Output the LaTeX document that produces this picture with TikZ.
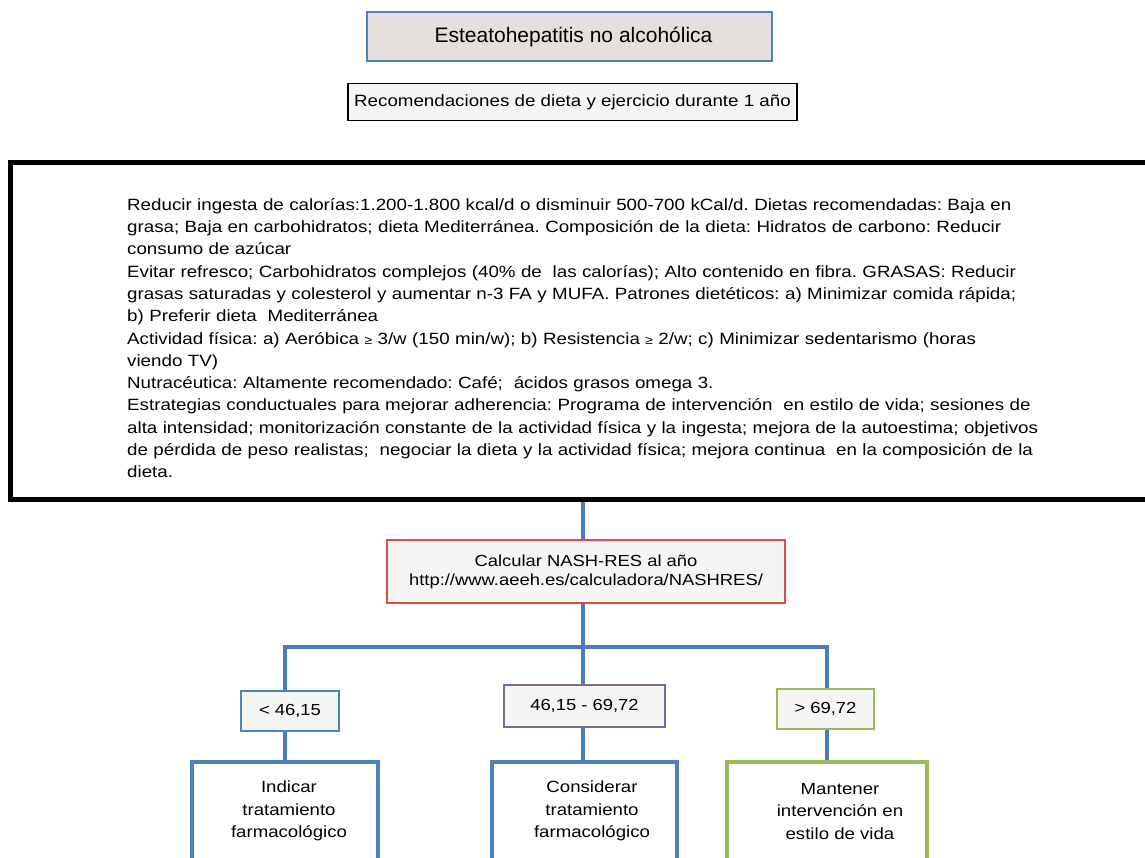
\documentclass[tikz,border=0pt]{standalone}
\usepackage{fontspec}
\setmainfont{Liberation Sans}
\newfontfamily\stf[FakeStretch=1.15]{Liberation Sans}
\definecolor{boxblue}{HTML}{4F81BD}
\definecolor{connblue}{HTML}{4A7EBB}
\definecolor{titlegray}{HTML}{E4E1DD}
\definecolor{lightfill}{HTML}{F5F5F3}
\definecolor{nashred}{HTML}{DD4B4B}
\definecolor{boxpurple}{HTML}{8064A2}
\definecolor{boxgreen}{HTML}{9BBB59}
\newcommand{\smallgeq}{{\fontsize{12}{12}\selectfont ≥}}
\frenchspacing
\begin{document}
\frenchspacing
\begin{tikzpicture}[x=1pt,y=-1pt,
  titlebox/.style={draw=boxblue, fill=titlegray, line width=1.5pt, inner sep=0pt,
    minimum width=405pt, minimum height=49pt, font=\fontsize{21}{24}\selectfont},
  subbox/.style={draw=black, fill=lightfill, line width=1.5pt, inner sep=0pt,
    minimum width=449pt, minimum height=37.4pt, font=\stf\fontsize{16.3}{20}\selectfont},
  bigbox/.style={draw=black, fill=white, line width=5pt, inner sep=0pt},
  bodytext/.style={inner sep=0pt, text width=1000pt, align=left,
    font=\stf\fontsize{16.3}{22.3}\selectfont},
  nashbox/.style={draw=nashred, fill=lightfill, line width=1.5pt, inner sep=0pt,
    minimum width=398pt, minimum height=63pt, align=center,
    font=\stf\fontsize{16}{19}\selectfont},
  smallbox/.style={fill=lightfill, line width=1.5pt, inner sep=0pt,
    minimum height=40pt, font=\stf\fontsize{16}{19}\selectfont},
  resbox/.style={fill=white, line width=4pt, inner sep=0pt, anchor=north,
    minimum height=140pt},
  restext/.style={inner sep=0pt, align=center, font=\stf\fontsize{16.2}{22.5}\selectfont},
  conn/.style={draw=connblue, line width=4pt}
]
\useasboundingbox (0,0) rectangle (1145,858);
\clip (0,0) rectangle (1145,858);

\node[titlebox] (title) at (569.5,36.5) {\hspace*{8pt}Esteatohepatitis no alcohólica};
\node[subbox] (sub) at (572.5,102) {Recomendaciones de dieta y ejercicio durante 1 año};

\node[bigbox, minimum width=1139.5pt, minimum height=336pt] (big) at (580.25,331) {};
\node[bodytext, anchor=north west] (body) at (127,198) {%
Reducir ingesta de calorías:1.200-1.800 kcal/d o disminuir 500-700 kCal/d. Dietas recomendadas: Baja en\\
grasa; Baja en carbohidratos; dieta Mediterránea. Composición de la dieta: Hidratos de carbono: Reducir\\
consumo de azúcar\\
Evitar refresco; Carbohidratos complejos (40\% de\ \ las calorías); Alto contenido en fibra. GRASAS: Reducir\\
grasas saturadas y colesterol y aumentar n-3 FA y MUFA. Patrones dietéticos: a) Minimizar comida rápida;\\
b) Preferir dieta\ \ Mediterránea\\
Actividad física: a) Aeróbica \smallgeq\ 3/w (150 min/w); b) Resistencia \smallgeq\ 2/w; c) Minimizar sedentarismo (horas\\
viendo TV)\\
Nutracéutica: Altamente recomendado: Café;\ \ ácidos grasos omega 3.\\
Estrategias conductuales para mejorar adherencia: Programa de intervención\ \ en estilo de vida; sesiones de\\
alta intensidad; monitorización constante de la actividad física y la ingesta; mejora de la autoestima; objetivos\\
de pérdida de peso realistas;\ \ negociar la dieta y la actividad física; mejora continua\ \ en la composición de la\\
dieta.};

\node[nashbox] (nash) at (586,571.5) {Calcular NASH-RES al año\\http://www.aeeh.es/calculadora/NASHRES/};

\node[smallbox, draw=boxblue, minimum width=98pt] (s1) at (290,711) {< 46,15};
\node[smallbox, draw=boxpurple, minimum width=161pt, minimum height=42pt] (s2) at (584.5,706) {46,15 - 69,72};
\node[smallbox, draw=boxgreen, minimum width=97pt] (s3) at (825.5,709) {> 69,72};

\node[resbox, draw=boxblue, minimum width=186pt] (b1) at (285,760) {};
\node[resbox, draw=boxblue, minimum width=185pt] (b2) at (584.5,760) {};
\node[resbox, draw=boxgreen, minimum width=200pt] (b3) at (826.5,760) {};

\node[restext] (t1) at (289,811) {Indicar\\tratamiento\\farmacológico};
\node[restext] (t2) at (592,811) {Considerar\\tratamiento\\farmacológico};
\node[restext] (t3) at (840,811) {Mantener\\intervención en\\estilo de vida};

\coordinate (spine) at (583,647);
\draw[conn] (big.south -| spine) -- (nash.north -| spine);
\draw[conn] (nash.south -| spine) -- (spine);
\draw[conn] (b1.north |- s1.north) |- (spine) -| (b3.north |- s3.north);
\draw[conn] (spine) -- (s2.north -| spine);
\draw[conn] (s1.south -| b1.north) -- (b1.north);
\draw[conn] (s2.south -| spine) -- (b2.north -| spine);
\draw[conn] (s3.south -| b3.north) -- (b3.north);
\end{tikzpicture}
\end{document}
